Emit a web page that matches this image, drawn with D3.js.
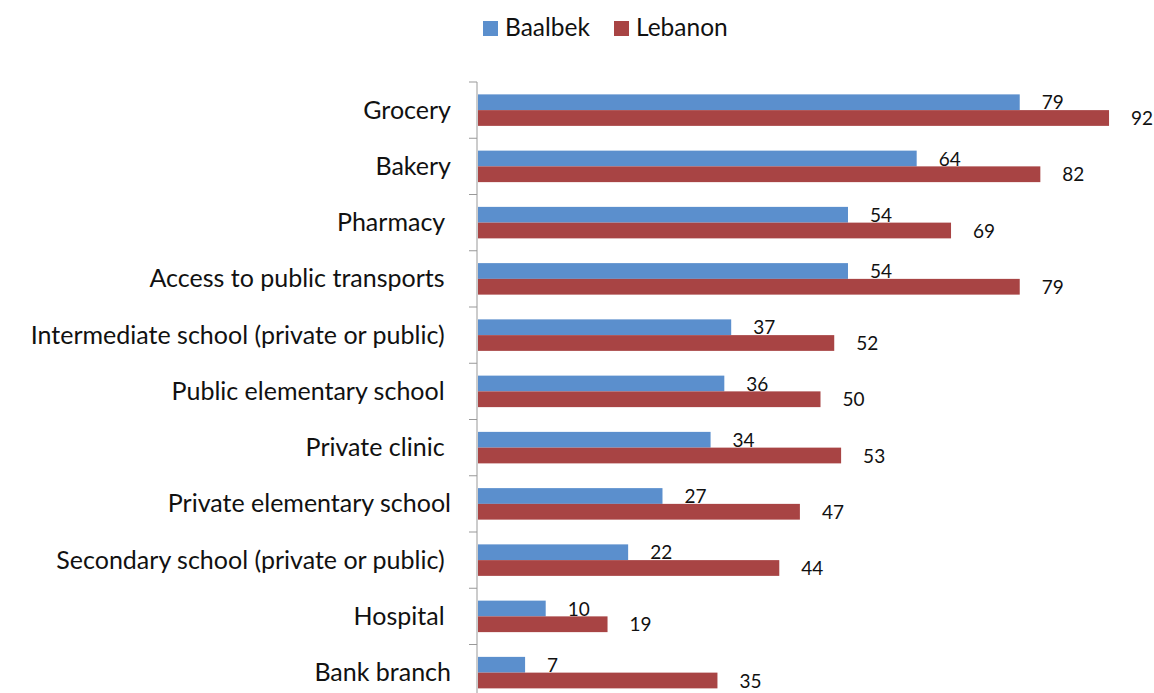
<!DOCTYPE html>
<html>
<head>
<meta charset="utf-8">
<script src="https://cdn.jsdelivr.net/npm/d3@7"></script>
<style>
  body { margin: 0; background: #fff; }
  text { font-family: Lato, "Open Sans", sans-serif; fill: #111; }
</style>
</head>
<body>
<div class="main"></div>
<script>
var categories = [
    'Grocery', 'Bakery', 'Pharmacy ', 'Access to public transports ',
    'Intermediate school (private or public) ', 'Public elementary school ',
    'Private clinic ', 'Private elementary school',
    'Secondary school (private or public) ', 'Hospital ', 'Bank branch'
];
var baalbek = [79, 64, 54, 54, 37, 36, 34, 27, 22, 10, 7];
var lebanon = [92, 82, 69, 79, 52, 50, 53, 47, 44, 19, 35];
var seriesNames = ['Baalbek', 'Lebanon'];
var seriesColors = ['#5b8fcd', '#a84444'];

var options = {
    width: 1154,
    height: 693
};

var svg = d3.select('.main')
    .append('svg')
    .attr('width', options.width)
    .attr('height', options.height);

var x0 = 477;
var scale_x = d3.scaleLinear().domain([0, 100]).range([x0, x0 + 687]);
var scale_y = d3.scaleBand().domain(categories).range([82, 82 + 56.25 * categories.length]);
var barH = 15.75;

// axis line + ticks
svg.append('line')
    .attr('x1', x0).attr('x2', x0)
    .attr('y1', 82).attr('y2', options.height)
    .style('stroke', '#999').style('stroke-width', '1px');

var tickYs = d3.range(categories.length).map(function (i) {
    return scale_y(categories[i]);
});
svg.selectAll('.tick')
    .data(tickYs)
    .enter()
    .append('line')
    .attr('class', 'tick')
    .attr('x1', x0 - 8).attr('x2', x0)
    .attr('y1', function (d) { return d; })
    .attr('y2', function (d) { return d; })
    .style('stroke', '#999').style('stroke-width', '1px');

// category labels
svg.selectAll('.cat')
    .data(categories)
    .enter()
    .append('text')
    .attr('class', 'cat')
    .attr('x', 451)
    .attr('y', function (d) { return scale_y(d) + scale_y.bandwidth() / 2 + 8.5; })
    .attr('text-anchor', 'end')
    .style('white-space', 'pre')
    .style('font-size', '25px')
    .text(function (d) { return d; });

// bars
var series = [baalbek, lebanon];
series.forEach(function (vals, s) {
    var g = svg.append('g');
    g.selectAll('rect')
        .data(vals)
        .enter()
        .append('rect')
        .attr('x', x0 + 1)
        .attr('y', function (d, i) {
            return scale_y(categories[i]) + scale_y.bandwidth() / 2 - barH + s * barH;
        })
        .attr('width', function (d) { return scale_x(d) - x0 - 1; })
        .attr('height', barH)
        .style('fill', seriesColors[s]);

    g.selectAll('text')
        .data(vals)
        .enter()
        .append('text')
        .attr('x', function (d) { return scale_x(d) + 22; })
        .attr('y', function (d, i) {
            return scale_y(categories[i]) + scale_y.bandwidth() / 2 - barH / 2 + s * barH + 7;
        })
        .style('font-size', '19px')
        .text(function (d) { return d; });
});

// legend
var legendX = [483, 614];
seriesNames.forEach(function (name, s) {
    svg.append('rect')
        .attr('x', legendX[s]).attr('y', 21)
        .attr('width', 15).attr('height', 15)
        .style('fill', seriesColors[s]);
    svg.append('text')
        .attr('x', legendX[s] + 22).attr('y', 36)
        .style('font-size', '24.5px')
        .text(name);
});
</script>
</body>
</html>
